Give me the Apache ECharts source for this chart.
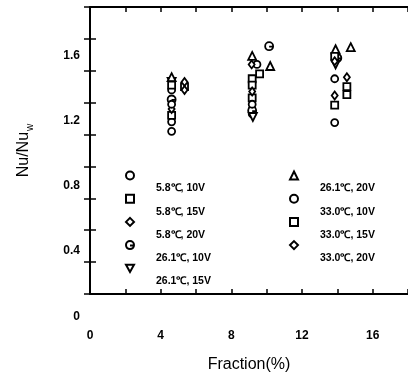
<!DOCTYPE html>
<html>
<head>
<meta charset="utf-8">
<script src="https://cdn.jsdelivr.net/npm/echarts@6/dist/echarts.min.js"></script>
<style>
  html, body { margin: 0; padding: 0; background: #fff; }
  #chart { width: 408px; height: 378px; }
</style>
</head>
<body>
<div id="chart"></div>
<script>
// series names, in legend order
const seriesNames = [
  "5.8℃, 10V", "5.8℃, 15V", "5.8℃, 20V", "26.1℃, 10V", "26.1℃, 15V",
  "26.1℃, 20V", "33.0℃, 10V", "33.0℃, 15V", "33.0℃, 20V",
];

// [fraction %, Nu/Nu_w]
const t58v10 = [[4.62, 1.12], [4.62, 1.18], [9.18, 1.23], [13.85, 1.175]];
const t58v15 = [[4.62, 1.22], [9.18, 1.33], [13.85, 1.285]];
const t58v20 = [[4.62, 1.26], [9.18, 1.27], [13.85, 1.345]];
const t261v10 = [[4.62, 1.32], [9.18, 1.25], [10.14, 1.654], [14.0, 1.58]];
const t261v15 = [[4.62, 1.43], [9.22, 1.21], [13.9, 1.54]];
const t261v20 = [[4.62, 1.46], [9.18, 1.593], [10.2, 1.53], [13.9, 1.635], [14.76, 1.648]];
const t330v10 = [[4.62, 1.38], [4.62, 1.29], [9.45, 1.54], [9.18, 1.29], [13.85, 1.45]];
const t330v15 = [[4.62, 1.41], [5.35, 1.40], [9.18, 1.45], [9.18, 1.41], [9.6, 1.48],
  [13.85, 1.59], [14.54, 1.40], [14.54, 1.35]];
const t330v20 = [[5.35, 1.43], [5.35, 1.38], [9.15, 1.54], [9.18, 1.37], [13.85, 1.56], [14.54, 1.46]];

const seriesData = [t58v10, t58v15, t58v20, t261v10, t261v15, t261v20, t330v10, t330v15, t330v20];

const xTicks = [0, 4, 8, 12, 16];
const yTicks = [0, 0.4, 0.8, 1.2, 1.6];

const ringBar = "path://M10,0A10,10 0 1,1 -10,0A10,10 0 1,1 10,0Z M0,1 L10,1";
const triDown = "path://M0,10L-10,-8L10,-8Z";
const symbols = ["circle", "rect", "diamond", ringBar, triDown, "triangle", "circle", "rect", "diamond"];
const sizes = [7, 7, [6, 8], 8, 8, 8, 7, 7, [6, 8]];

const font = "'Liberation Sans', Arial, sans-serif";
const black = "#000";

const chart = echarts.init(document.getElementById("chart"), null, { renderer: "canvas" });

const tickStyle = { show: true, inside: true, length: 5, lineStyle: { color: black, width: 1.5 } };

function legendFor(names, left) {
  return {
    orient: "vertical",
    left: left,
    top: 157,
    padding: 0,
    itemWidth: 8,
    itemHeight: 8,
    itemGap: -13.8,
    selectedMode: false,
    data: names,
    formatter: (name) => "{t|" + name + "}",
    textStyle: {
      color: black,
      fontFamily: font,
      fontSize: 10.5,
      fontWeight: "bold",
      rich: { t: { fontSize: 10.5, fontWeight: "bold", fontFamily: font, lineHeight: 14, padding: [26, 0, 0, 17] } },
    },
  };
}

chart.setOption({
  animation: false,
  backgroundColor: "#fff",
  textStyle: { fontFamily: font, color: black },
  grid: [
    { left: 90, top: 7, right: -1.5, bottom: 78 },
    { left: 90, top: 7, right: -1.5, bottom: 61.7 },
  ],
  legend: [
    legendFor(seriesNames.slice(0, 5), 125),
    legendFor(seriesNames.slice(5), 289),
  ],
  xAxis: [
    {
      type: "value",
      gridIndex: 0,
      min: 0,
      max: 18,
      interval: 4,
      name: "Fraction(%)",
      nameLocation: "middle",
      nameGap: 63,
      nameTextStyle: { fontSize: 16, color: black, fontFamily: font },
      axisLine: { show: true, onZero: false, lineStyle: { color: black, width: 2 } },
      axisTick: tickStyle,
      minorTick: { show: true, splitNumber: 2, length: 5, lineStyle: { color: black, width: 1.5 } },
      splitLine: { show: false },
      axisLabel: {
        margin: 36,
        fontSize: 12,
        fontWeight: "bold",
        color: black,
        showMaxLabel: false,
        formatter: (v) => (xTicks.includes(v) ? String(v) : ""),
      },
    },
    {
      type: "value",
      gridIndex: 0,
      position: "top",
      min: 0,
      max: 18,
      interval: 4,
      axisLine: { show: true, onZero: false, lineStyle: { color: black, width: 2 } },
      axisTick: tickStyle,
      minorTick: { show: true, splitNumber: 2, length: 5, lineStyle: { color: black, width: 1.5 } },
      splitLine: { show: false },
      axisLabel: { show: false },
    },
    { type: "value", gridIndex: 1, min: 0, max: 18, show: false },
  ],
  yAxis: [
    {
      type: "value",
      gridIndex: 0,
      min: 0.1,
      max: 1.9,
      interval: 0.2,
      name: "{a|Nu/Nu}{b|w}",
      nameLocation: "middle",
      nameGap: 55,
      nameRotate: 90,
      nameTextStyle: {
        rich: {
          a: { fontSize: 16, color: black, fontFamily: font, verticalAlign: "top" },
          b: { fontSize: 10, color: black, fontFamily: font, verticalAlign: "top", padding: [9, 0, 0, 1] },
        },
      },
      axisLine: { show: true, onZero: false, lineStyle: { color: black, width: 2 } },
      axisTick: { show: true, inside: true, length: 6, lineStyle: { color: black, width: 1.5 } },
      splitLine: { show: false },
      axisLabel: { show: false },
    },
    {
      type: "value",
      gridIndex: 0,
      position: "right",
      min: 0.1,
      max: 1.9,
      interval: 0.2,
      axisLine: { show: false },
      axisTick: { show: true, inside: true, length: 6, lineStyle: { color: black, width: 1.5 } },
      splitLine: { show: false },
      axisLabel: { show: false },
    },
    {
      type: "value",
      gridIndex: 1,
      min: 0,
      max: 1.9,
      interval: 0.4,
      axisLine: { show: false },
      axisTick: { show: false },
      splitLine: { show: false },
      axisLabel: {
        margin: 10,
        fontSize: 12,
        fontWeight: "bold",
        color: black,
        showMaxLabel: false,
        formatter: (v) => (v === 0 ? "0" : v.toFixed(1)),
      },
    },
  ],
  series: seriesNames.map((name, i) => ({
    name: name,
    type: "scatter",
    xAxisIndex: 0,
    yAxisIndex: 0,
    data: seriesData[i],
    symbol: symbols[i],
    symbolSize: sizes[i],
    itemStyle: { color: "#fff", borderColor: black, borderWidth: 1.8, opacity: 1 },
    emphasis: { disabled: true },
  })),
});
</script>
</body>
</html>
